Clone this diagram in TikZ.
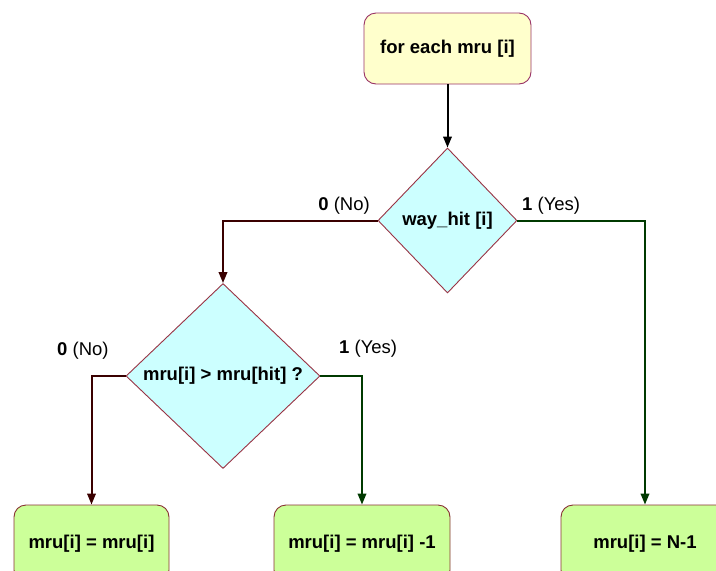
\documentclass[tikz,border=0pt]{standalone}
\usepackage{fontspec}
\setmainfont{Liberation Sans}
\usetikzlibrary{shapes.geometric,arrows.meta}

\definecolor{startfill}{HTML}{FFFFCC}
\definecolor{startedge}{HTML}{993366}
\definecolor{testfill}{HTML}{CCFFFF}
\definecolor{testedge}{HTML}{993344}
\definecolor{actfill}{HTML}{CCFF99}
\definecolor{actedge}{HTML}{883333}
\definecolor{nowire}{HTML}{3A0000}
\definecolor{yeswire}{HTML}{003A00}

\tikzset{
  x=1pt, y=-1pt,
  every node/.style={font=\fontsize{18.5}{22}\selectfont},
  startbox/.style={draw=startedge, fill=startfill, line width=0.9pt,
    rounded corners=12pt, minimum width=167pt, minimum height=71pt,
    inner sep=0pt, font=\fontsize{18.5}{22}\selectfont\bfseries},
  testbox/.style={diamond, draw=testedge, fill=testfill, line width=0.9pt,
    inner sep=0pt, font=\fontsize{18.5}{22}\selectfont\bfseries},
  actbox/.style={draw=actedge, fill=actfill, line width=0.9pt,
    rounded corners=12pt, minimum height=77pt,
    inner sep=0pt, font=\fontsize{18.5}{22}\selectfont\bfseries},
  wire/.style={line width=2pt, -{Triangle[length=11pt,width=8.5pt]}},
  nopath/.style={wire, draw=nowire, -{Triangle[length=11pt,width=8.5pt,fill=nowire]}},
  yespath/.style={wire, draw=yeswire, -{Triangle[length=11pt,width=8.5pt,fill=yeswire]}},
  branchlabel/.style={inner sep=0pt},
}

\begin{document}
\begin{tikzpicture}
\useasboundingbox (0,0) rectangle (716,571);
\clip (0,0) rectangle (716,571);

% start of the loop
\node[startbox] (start) at (447.5,48.5) {for each mru [i]};

% decisions
\node[testbox, minimum width=139pt, minimum height=145pt] (hit) at (447.5,220.5) {\raisebox{-3pt}{way\_hit [i]}};
\node[testbox, minimum width=194pt, minimum height=185pt] (cmp) at (223,376) {\raisebox{-1.5pt}{mru[i] > mru[hit] ?}};

% actions
\node[actbox, minimum width=155pt] (keep) at (91.5,543.5) {mru[i] = mru[i]};
\node[actbox, minimum width=176pt] (dec) at (362,543.5) {mru[i] = mru[i] -1};
\node[actbox, minimum width=168pt] (top) at (645,543.5) {mru[i] = N-1};

% connectors
\draw[wire, draw=black] (start.south) -- (hit.north);
\draw[nopath] (hit.west) -| (cmp.north);
\draw[yespath] (hit.east) -| (top.north);
\draw[nopath] (cmp.west) -| (keep.north);
\draw[yespath] (cmp.east) -| (dec.north);

% branch labels
\node[branchlabel, anchor=east] (l1) at (370,206) {\textbf{0} (No)};
\node[branchlabel, anchor=west] (l2) at (522,206) {\textbf{1} (Yes)};
\node[branchlabel, anchor=west] (l3) at (57,351) {\textbf{0} (No)};
\node[branchlabel, anchor=west] (l4) at (339,349) {\textbf{1} (Yes)};
\end{tikzpicture}
\end{document}
